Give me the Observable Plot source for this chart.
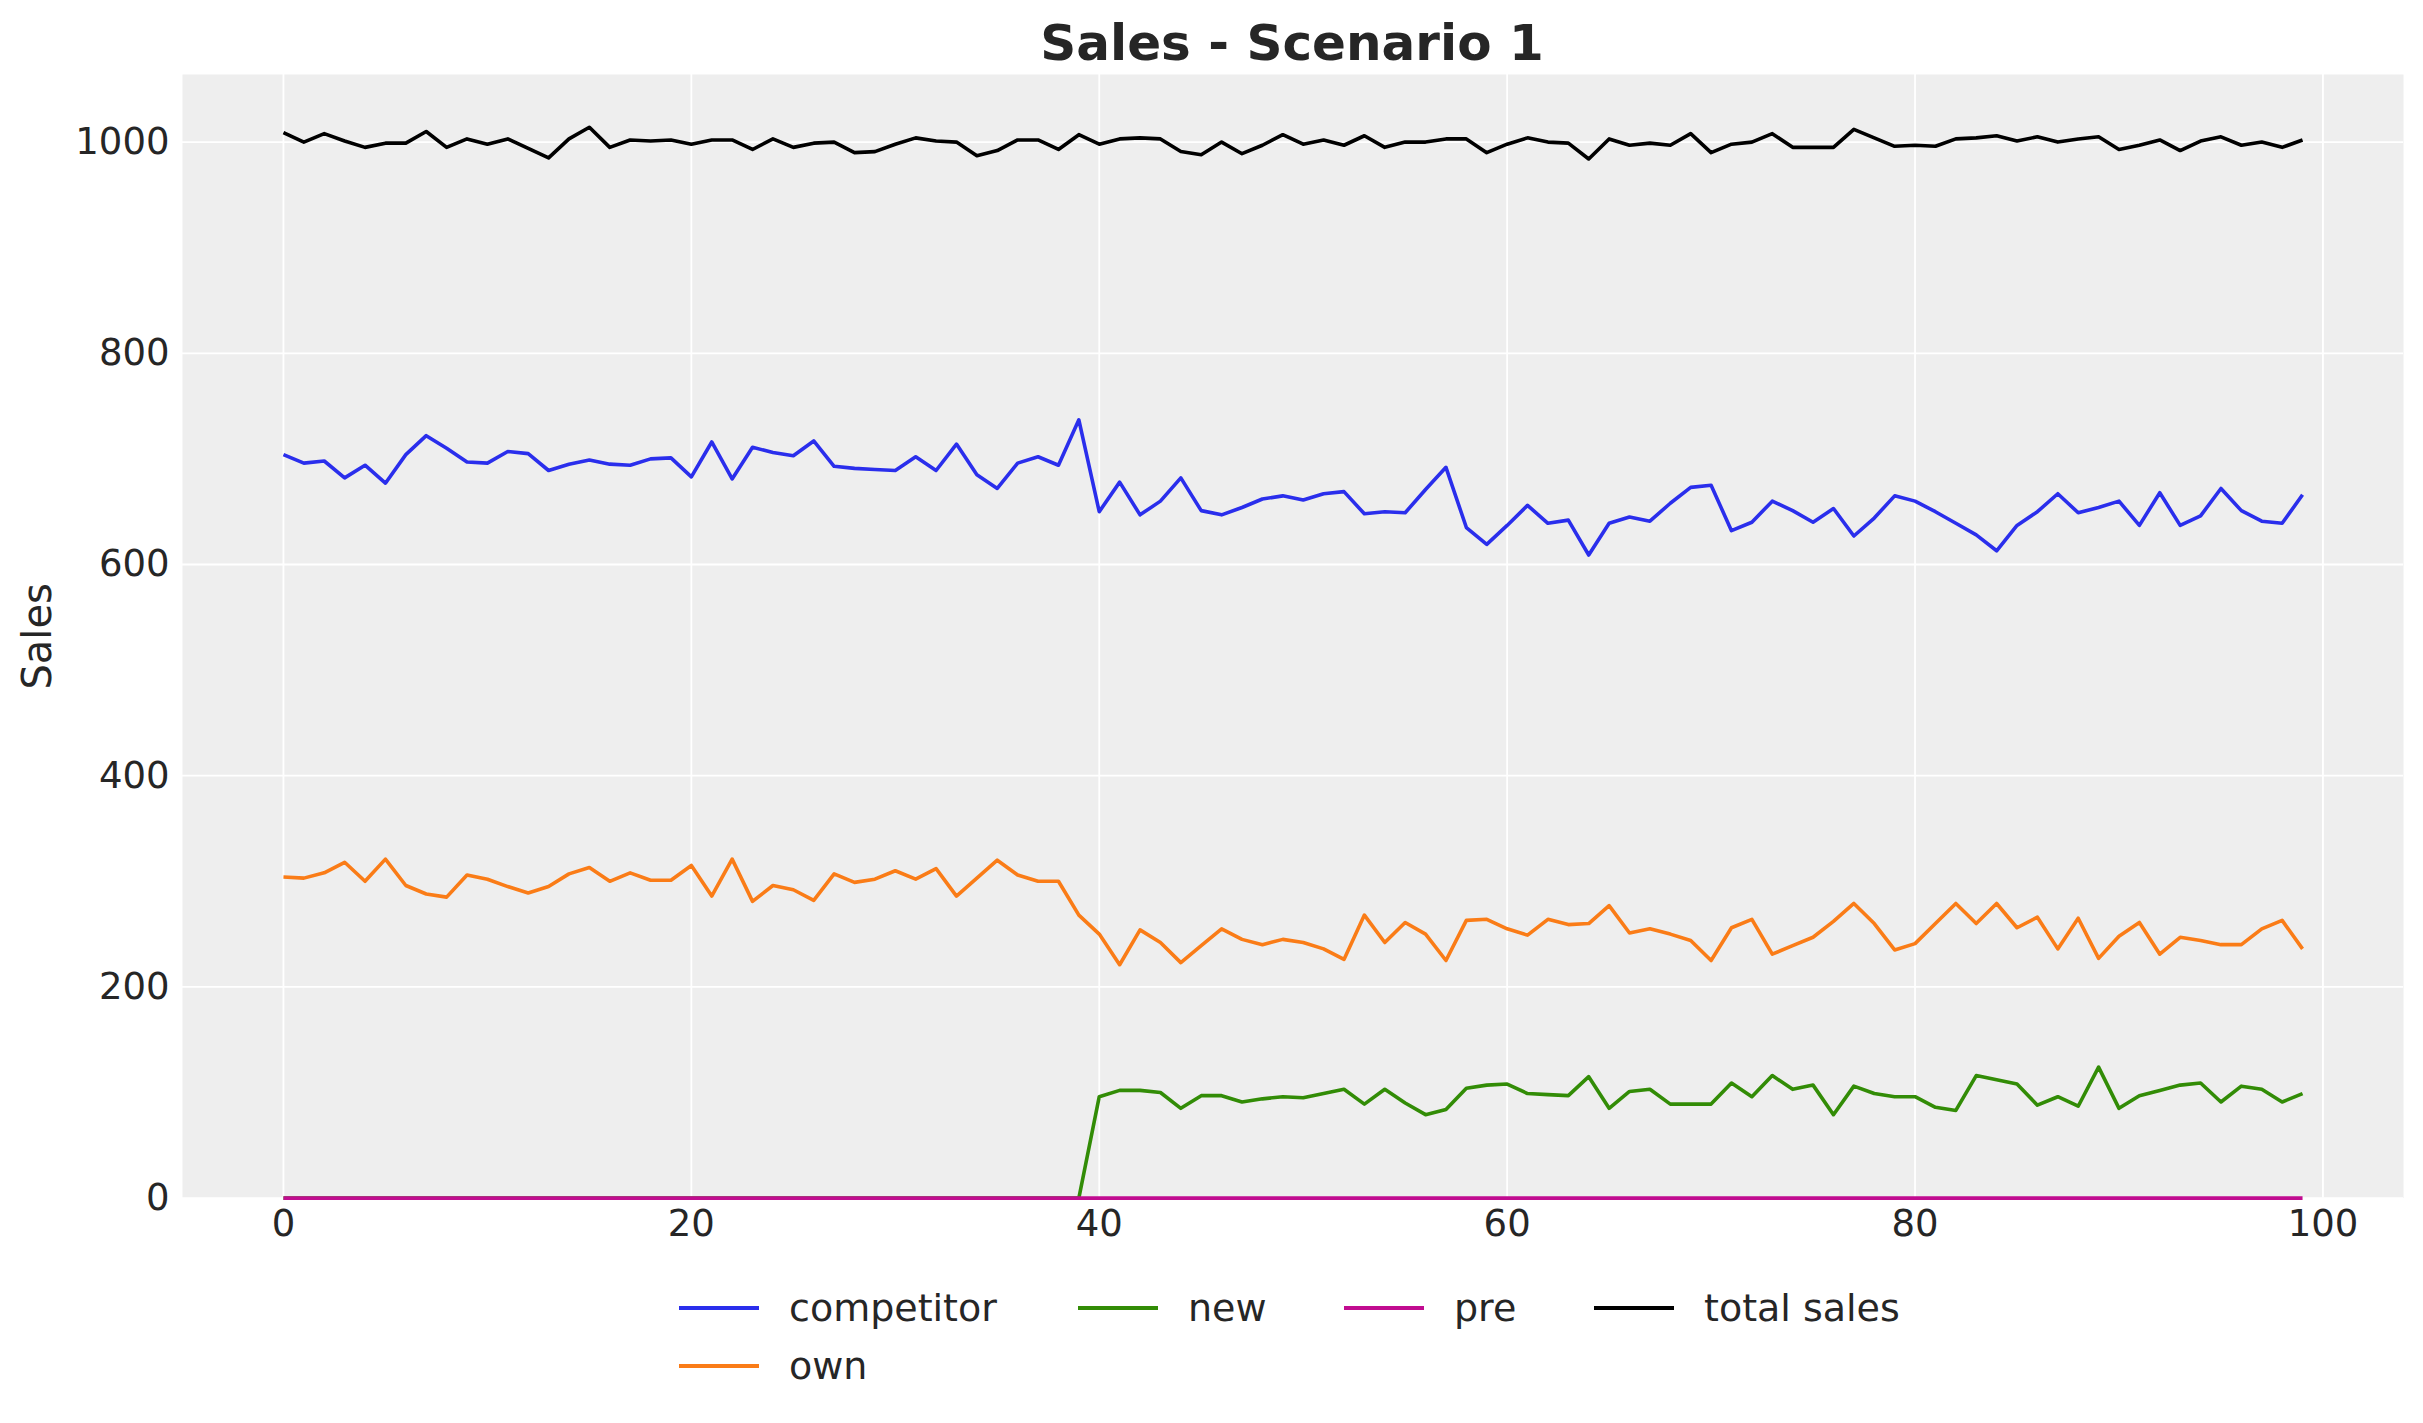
<!DOCTYPE html>
<html>
<head>
<meta charset="utf-8">
<script src="https://cdn.jsdelivr.net/npm/d3@7"></script>
<script src="https://cdn.jsdelivr.net/npm/@observablehq/plot@0.6"></script>
<style>
  html, body { margin: 0; padding: 0; background: #ffffff; }
  body { width: 2423px; height: 1423px; overflow: hidden; font-family: "DejaVu Sans", sans-serif; color: #262626; }
  #title { height: 66px; box-sizing: border-box; padding-top: 20px; line-height: 46px; font-size: 50px; font-weight: bold; text-align: center; width: 2423px; padding-left: 161px; }
  #chart svg { display: block; }
  #legend { position: relative; height: 153px; width: 2423px; }
  .item { position: absolute; height: 50px; display: flex; align-items: center; font-size: 38px; white-space: nowrap; }
  .swatch { width: 80px; height: 3.8px; margin-right: 30px; }
</style>
</head>
<body>
<div id="title">Sales - Scenario 1</div>
<div id="chart"></div>
<div id="legend"></div>
<script>
const seriesNames = ["competitor", "own", "new", "pre", "total sales"];
const seriesColors = ["#2a2eec", "#fa7c17", "#328c06", "#c10c90", "#000000"];
const xTicks = [0, 20, 40, 60, 80, 100];
const yTicks = [0, 200, 400, 600, 800, 1000];

const competitor = [704, 696, 698, 682, 694, 677, 704, 722, 710, 697,
  696, 707, 705, 689, 695, 699, 695, 694, 700, 701,
  683, 716, 681, 711, 706, 703, 717, 693, 691, 690,
  689, 702, 689, 714, 685, 672, 696, 702, 694, 737,
  650, 678, 647, 660, 682, 651, 647, 654, 662, 665,
  661, 667, 669, 648, 650, 649, 671, 692, 635, 619,
  637, 656, 639, 642, 609, 639, 645, 641, 658, 673,
  675, 632, 640, 660, 651, 640, 653, 627, 644, 665,
  660, 650, 639, 628, 613, 637, 650, 667, 649, 654,
  660, 637, 668, 637, 646, 672, 651, 641, 639, 666];

const own = [304, 303, 308, 318, 300, 321, 296, 288, 285, 306,
  302, 295, 289, 295, 307, 313, 300, 308, 301, 301,
  315, 286, 321, 281, 296, 292, 282, 307, 299, 302,
  310, 302, 312, 286, 303, 320, 306, 300, 300, 268,
  250, 221, 254, 242, 223, 239, 255, 245, 240, 245,
  242, 236, 226, 268, 242, 261, 250, 225, 263, 264,
  255, 249, 264, 259, 260, 277, 251, 255, 250, 244,
  225, 256, 264, 231, 239, 247, 262, 279, 260, 235,
  241, 260, 279, 260, 279, 256, 266, 236, 265, 227,
  248, 261, 231, 247, 244, 240, 240, 255, 263, 236];

const newSales = [0, 0, 0, 0, 0, 0, 0, 0, 0, 0,
  0, 0, 0, 0, 0, 0, 0, 0, 0, 0,
  0, 0, 0, 0, 0, 0, 0, 0, 0, 0,
  0, 0, 0, 0, 0, 0, 0, 0, 0, 0,
  96, 102, 102, 100, 85, 97, 97, 91, 94, 96,
  95, 99, 103, 89, 103, 90, 79, 84, 104, 107,
  108, 99, 98, 97, 115, 85, 101, 103, 89, 89,
  89, 109, 96, 116, 103, 107, 79, 106, 99, 96,
  96, 86, 83, 116, 112, 108, 88, 96, 87, 124,
  85, 97, 102, 107, 109, 91, 106, 103, 91, 99];

const pre = [0, 0, 0, 0, 0, 0, 0, 0, 0, 0,
  0, 0, 0, 0, 0, 0, 0, 0, 0, 0,
  0, 0, 0, 0, 0, 0, 0, 0, 0, 0,
  0, 0, 0, 0, 0, 0, 0, 0, 0, 0,
  0, 0, 0, 0, 0, 0, 0, 0, 0, 0,
  0, 0, 0, 0, 0, 0, 0, 0, 0, 0,
  0, 0, 0, 0, 0, 0, 0, 0, 0, 0,
  0, 0, 0, 0, 0, 0, 0, 0, 0, 0,
  0, 0, 0, 0, 0, 0, 0, 0, 0, 0,
  0, 0, 0, 0, 0, 0, 0, 0, 0, 0];

const totalSales = [1009, 1000, 1008, 1001, 995, 999, 999, 1010, 995, 1003,
  998, 1003, 994, 985, 1003, 1014, 995, 1002, 1001, 1002,
  998, 1002, 1002, 993, 1003, 995, 999, 1000, 990, 991,
  998, 1004, 1001, 1000, 987, 992, 1002, 1002, 993, 1007,
  998, 1003, 1004, 1003, 991, 988, 1000, 989, 997, 1007,
  998, 1002, 997, 1006, 995, 1000, 1000, 1003, 1003, 990,
  998, 1004, 1000, 999, 984, 1003, 997, 999, 997, 1008,
  990, 998, 1000, 1008, 995, 995, 995, 1012, 1004, 996,
  997, 996, 1003, 1004, 1006, 1001, 1005, 1000, 1003, 1005,
  993, 997, 1002, 992, 1001, 1005, 997, 1000, 995, 1002];

const seriesValues = [competitor, own, newSales, pre, totalSales];
const rows = [];
seriesNames.forEach((name, s) => {
  seriesValues[s].forEach((v, t) => rows.push({series: name, t: t, value: v}));
});

const chart = Plot.plot({
  width: 2423,
  height: 1204,
  marginLeft: 182,
  marginRight: 20,
  marginTop: 8,
  marginBottom: 72.4,
  style: {fontFamily: "DejaVu Sans", fontSize: "37px", color: "#262626", background: "#ffffff"},
  x: {domain: [-4.95, 103.95], ticks: xTicks},
  y: {domain: [0, 1064], ticks: yTicks},
  color: {domain: seriesNames, range: seriesColors},
  marks: [
    Plot.frame({fill: "#eeeeee", stroke: null}),
    Plot.gridX(xTicks, {stroke: "#ffffff", strokeOpacity: 1, strokeWidth: 1.8}),
    Plot.gridY(yTicks, {stroke: "#ffffff", strokeOpacity: 1, strokeWidth: 1.8}),
    Plot.axisX(xTicks, {tickSize: 0, tickPadding: 12, label: null, tickFormat: d => String(d)}),
    Plot.axisY(yTicks, {tickSize: 0, tickPadding: 13, label: null, tickFormat: d => String(d)}),
    Plot.text(["Sales"], {frameAnchor: "left", textAnchor: "middle", lineAnchor: "middle", rotate: -90, dx: -144, fontSize: 40, text: d => d, fill: "#262626"}),
    Plot.line(rows, {x: "t", y: "value", z: "series", stroke: "series", strokeWidth: 3.6, strokeLinejoin: "round", strokeLinecap: "butt"})
  ]
});
document.getElementById("chart").appendChild(chart);

// legend: matplotlib-style 4 columns, filled column-first
const legendPos = [
  {name: "competitor", left: 679, top: 13},
  {name: "own", left: 679, top: 71},
  {name: "new", left: 1078, top: 13},
  {name: "pre", left: 1344, top: 13},
  {name: "total sales", left: 1594, top: 13}
];
const legend = document.getElementById("legend");
legendPos.forEach(p => {
  const item = document.createElement("div");
  item.className = "item";
  item.style.left = p.left + "px";
  item.style.top = p.top + "px";
  const sw = document.createElement("span");
  sw.className = "swatch";
  sw.style.background = seriesColors[seriesNames.indexOf(p.name)];
  const label = document.createElement("span");
  label.textContent = p.name;
  item.appendChild(sw);
  item.appendChild(label);
  legend.appendChild(item);
});
</script>
</body>
</html>
